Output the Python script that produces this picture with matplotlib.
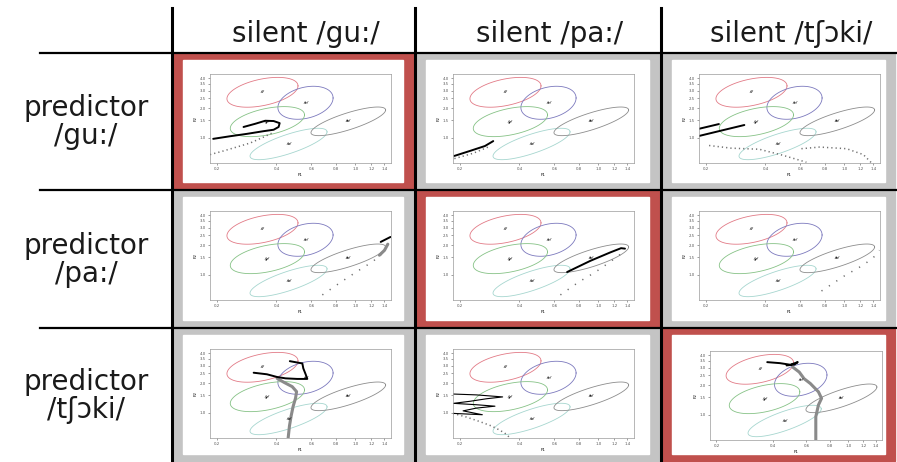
#!/usr/bin/env python3

import numpy as np
import matplotlib.pyplot as plt
from matplotlib.patches import Rectangle
from matplotlib.ticker import NullLocator

plt.rcParams["font.family"] = ["DejaVu Sans"]

W, H = 897, 462

col_labels = ["silent /gu:/", "silent /pa:/", "silent /tʃɔki/"]
row_labels = ["predictor\n/gu:/", "predictor\n/pa:/", "predictor\n/tʃɔki/"]

# vowel ellipses: centre F1/F2 (kHz), spread in log10 units, correlation
vowels = ["/i/", "/e/", "/y/", "/o/", "/a/"]
ell_f1 = [0.34, 0.56, 0.36, 0.46, 0.92]
ell_f2 = [2.88, 2.26, 1.46, 0.87, 1.47]
ell_sd1 = [0.179, 0.139, 0.187, 0.194, 0.188]
ell_sd2 = [0.150, 0.166, 0.151, 0.158, 0.144]
ell_rho = [0.43, 0.29, 0.45, 0.77, 0.79]
ell_colors = ["#e27a86", "#7b78bd", "#86c286", "#a6d6cf", "#8c8c8c"]

f1_ticks = [0.2, 0.4, 0.6, 0.8, 1.0, 1.2, 1.4]
f2_ticks = [1.0, 1.5, 2.0, 2.5, 3.0, 3.5, 4.0]

# trajectories per cell (row = predictor, col = silent), F1/F2 in kHz
c00_line_f1 = [0.192, 0.233, 0.284, 0.344, 0.387, 0.410, 0.415, 0.387, 0.351, 0.313, 0.273]
c00_line_f2 = [0.98, 1.04, 1.10, 1.17, 1.21, 1.29, 1.41, 1.48, 1.49, 1.39, 1.29]
c00_dots_f1 = [0.185, 0.216, 0.252, 0.295, 0.344, 0.387]
c00_dots_f2 = [0.68, 0.74, 0.81, 0.89, 1.02, 1.14]

c01_line_f1 = [0.188, 0.225, 0.268, 0.295]
c01_line_f2 = [0.66, 0.74, 0.83, 0.93]
c01_dots_f1 = [0.188, 0.233, 0.278]
c01_dots_f2 = [0.62, 0.70, 0.81]

c02_line_f1 = [0.186, 0.233, np.nan, 0.186, 0.313]
c02_line_f2 = [1.24, 1.38, np.nan, 1.05, 1.35]
c02_dots_f1 = [0.208, 0.268, 0.372, 0.489, 0.643, np.nan, 0.607, 0.750, 1.025, 1.245, 1.37]
c02_dots_f2 = [0.84, 0.79, 0.77, 0.67, 0.57, np.nan, 0.78, 0.81, 0.78, 0.68, 0.56]

c10_line_f1 = [1.34, 1.50]
c10_line_f2 = [2.15, 2.41]
c10_grey_f1 = [1.455, 1.40, 1.32]
c10_grey_f2 = [2.04, 1.77, 1.58]
c10_dots_f1 = [0.681, 0.861, 1.03, 1.22, 1.44]
c10_dots_f2 = [0.63, 0.87, 1.10, 1.36, 1.80]

c11_line_f1 = [0.695, 0.912, 1.15, 1.30, 1.36]
c11_line_f2 = [1.07, 1.39, 1.69, 1.86, 1.84]
c11_dots_f1 = [0.643, 0.796, 0.966, 1.13, 1.32]
c11_dots_f2 = [0.63, 0.85, 1.07, 1.33, 1.67]

c12_dots_f1 = [0.766, 1.00, 1.245, 1.40, 1.50]
c12_dots_f2 = [0.69, 0.98, 1.26, 1.50, 1.77]

c20_line_f1 = [0.307, 0.358, 0.403, 0.444, 0.508, 0.572, 0.561, 0.546, 0.540, 0.508, 0.467]
c20_line_f2 = [2.54, 2.45, 2.30, 2.23, 2.20, 2.20, 2.45, 2.81, 3.15, 3.22, 3.32]
c20_grey_f1 = [0.403, 0.435, 0.480, 0.505, 0.499, 0.485, 0.474, 0.465, 0.458]
c20_grey_f2 = [2.23, 2.04, 1.84, 1.64, 1.41, 1.16, 0.93, 0.74, 0.56]

c21_line_f1 = [0.186, 0.243, 0.329, 0.273, 0.225, 0.186, 0.243, 0.301, 0.243, 0.208, 0.260, 0.186]
c21_line_f2 = [1.55, 1.52, 1.45, 1.39, 1.31, 1.25, 1.21, 1.17, 1.12, 1.05, 0.96, 0.99]
c21_dots_f1 = [0.185, 0.216, 0.252, 0.289, 0.319, 0.344, 0.361]
c21_dots_f2 = [0.99, 0.91, 0.82, 0.74, 0.67, 0.61, 0.55]

c22_line_f1 = [0.372, 0.435, 0.493, 0.540, 0.519, 0.471]
c22_line_f2 = [3.40, 3.32, 3.20, 3.40, 3.22, 3.15]
c22_grey_f1 = [0.508, 0.550, 0.583, 0.630, 0.695, 0.722, 0.695, 0.673, 0.673]
c22_grey_f2 = [3.03, 2.70, 2.32, 2.07, 1.71, 1.47, 1.26, 0.96, 0.56]

COL_X = [172, 415, 661, 897]
ROW_Y = [53, 190, 328, 462]
RED = "#c0504d"
GREY = "#c4c4c4"


def draw_panel(ax, line=None, grey=None, dots=None, dot_gap=2, line_width=1.4):
    t = np.linspace(0, 2 * np.pi, 120)
    for f1, f2, s1, s2, rho, col, name in zip(ell_f1, ell_f2, ell_sd1, ell_sd2, ell_rho, ell_colors, vowels):
        lx = np.log10(f1) + s1 * np.cos(t)
        ly = np.log10(f2) + s2 * (rho * np.cos(t) + np.sqrt(1 - rho ** 2) * np.sin(t))
        ax.plot(10 ** lx, 10 ** ly, color=col, lw=0.6)
        ax.text(f1, f2, name, fontsize=2.6, fontweight="bold", style="italic", ha="center", va="center")

    if dots is not None:
        ax.plot(dots[0], dots[1], color="#6e6e6e", lw=1.1, linestyle=(0, (0.8, dot_gap)))
    if grey is not None:
        ax.plot(grey[0], grey[1], color="#8a8a8a", lw=2.2, solid_capstyle="round")
    if line is not None:
        ax.plot(line[0], line[1], color="black", lw=line_width, solid_capstyle="round")

    ax.set_xscale("log")
    ax.set_yscale("log")
    ax.set_xlim(0.185, 1.51)
    ax.set_ylim(0.56, 4.4)
    ax.xaxis.set_minor_locator(NullLocator())
    ax.yaxis.set_minor_locator(NullLocator())
    ax.set_xticks(f1_ticks)
    ax.set_xticklabels([f"{v:.1f}" for v in f1_ticks])
    ax.set_yticks(f2_ticks)
    ax.set_yticklabels([f"{v:.1f}" for v in f2_ticks])
    ax.tick_params(labelsize=2.8, length=1.5, width=0.4, pad=1.5, colors="#555555")
    ax.set_xlabel("F1", fontsize=3, labelpad=1.5)
    ax.set_ylabel("F2", fontsize=3, labelpad=1.5)
    for sp in ax.spines.values():
        sp.set_color("#9a9a9a")
        sp.set_linewidth(0.5)
    ax.set_facecolor("white")


def main() -> None:
    fig = plt.figure(figsize=(W / 100, H / 100), dpi=100)
    bg = fig.add_axes([0, 0, 1, 1])
    bg.set_xlim(0, W)
    bg.set_ylim(H, 0)
    bg.axis("off")

    panels = {
        (0, 0): dict(line=(c00_line_f1, c00_line_f2), dots=(c00_dots_f1, c00_dots_f2)),
        (0, 1): dict(line=(c01_line_f1, c01_line_f2), dots=(c01_dots_f1, c01_dots_f2)),
        (0, 2): dict(line=(c02_line_f1, c02_line_f2), dots=(c02_dots_f1, c02_dots_f2)),
        (1, 0): dict(line=(c10_line_f1, c10_line_f2), grey=(c10_grey_f1, c10_grey_f2),
                     dots=(c10_dots_f1, c10_dots_f2), dot_gap=5),
        (1, 1): dict(line=(c11_line_f1, c11_line_f2), dots=(c11_dots_f1, c11_dots_f2), dot_gap=5),
        (1, 2): dict(dots=(c12_dots_f1, c12_dots_f2), dot_gap=5),
        (2, 0): dict(line=(c20_line_f1, c20_line_f2), grey=(c20_grey_f1, c20_grey_f2)),
        (2, 1): dict(line=(c21_line_f1, c21_line_f2), dots=(c21_dots_f1, c21_dots_f2), line_width=0.8),
        (2, 2): dict(line=(c22_line_f1, c22_line_f2), grey=(c22_grey_f1, c22_grey_f2)),
    }

    for r in range(3):
        for c in range(3):
            x0, x1 = COL_X[c], COL_X[c + 1]
            y0, y1 = ROW_Y[r], ROW_Y[r + 1]
            colour = RED if r == c else GREY
            bg.add_patch(Rectangle((x0 + 1, y0 + 1), x1 - x0 - 3, y1 - y0 - 2, color=colour, zorder=1))
            wx0, wx1 = x0 + 11, x1 - 12
            wy0, wy1 = y0 + 7, y1 - 8
            bg.add_patch(Rectangle((wx0, wy0), wx1 - wx0, wy1 - wy0, color="white", zorder=2))

            if (r, c) == (2, 2):
                left, right, top, bottom = x0 + 49, x0 + 221, y0 + 23, y0 + 112
            else:
                left, right, top, bottom = x0 + 38, x0 + 219, y0 + 21, y0 + 110
            ax = fig.add_axes([left / W, 1 - bottom / H, (right - left) / W, (bottom - top) / H])
            draw_panel(ax, **panels[(r, c)])

    # table rules
    for x in COL_X[:3]:
        bg.plot([x, x], [8, H], color="black", lw=2.2, zorder=5)
    for y in ROW_Y[:3]:
        bg.plot([40, W], [y, y], color="black", lw=1.6, zorder=5)

    for c, label in enumerate(col_labels):
        bg.text((COL_X[c] + COL_X[c + 1]) / 2 + 12, 34, label, fontsize=20, ha="center", va="center",
                color="#1a1a1a")
    for r, label in enumerate(row_labels):
        bg.text(86, (ROW_Y[r] + ROW_Y[r + 1]) / 2 + 1, label, fontsize=20, ha="center", va="center",
                linespacing=1.0, color="#1a1a1a")

    fig.savefig("out.png", dpi=100)


if __name__ == "__main__":
    main()
